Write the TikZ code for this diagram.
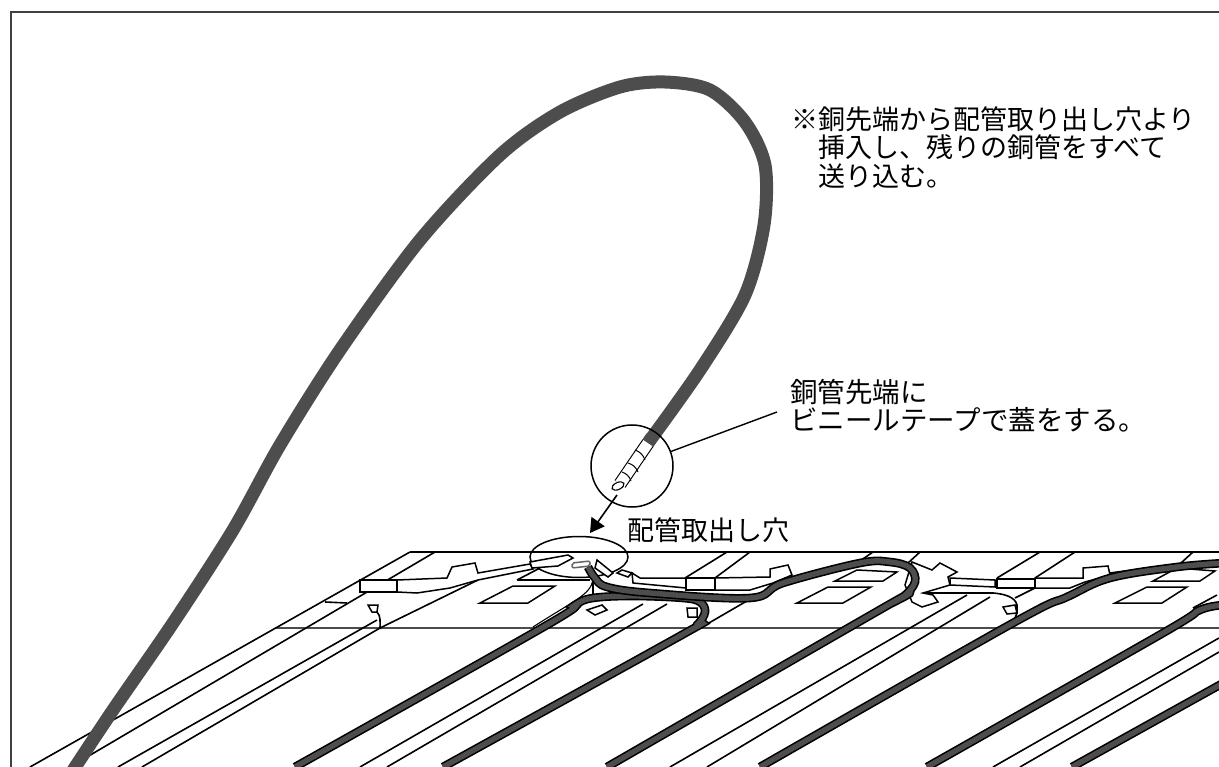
\documentclass[tikz,border=0pt]{standalone}
\usepackage{fontspec}
\usetikzlibrary{arrows.meta,shapes.geometric}
\newfontfamily\jpfont{Noto Sans CJK JP}
\definecolor{pipegray}{HTML}{4D4D4D}
\tikzset{
rail/.style = {draw=black, line width=1.6pt},
fitting/.style = {draw=black, fill=white, line width=1.5pt},
pipe/.style = {draw=black, line width=1.6pt, double=pipegray, double distance=5.4pt},
note/.style = {font=\jpfont\fontsize{#1}{28.5}\selectfont, anchor=north west, inner sep=0pt, align=left},
note/.default = 27
}
\begin{document}
\begin{tikzpicture}[x=1pt,y=-1pt]
      \clip (0,0) rectangle (1219,767);
      \fill [white] (0,0) rectangle (1219,767);
      \draw [draw=black!75, line width=2pt] (11,775) -- (11,12) -- (1225,12);
      % roof edges
      \draw [rail] (410,552) -- (1219,552);
      \draw [rail, draw=black!70, line width=2pt] (276,628) -- (1219,628);
      % rails
      \draw [rail] (410,552) -- (30,767);
      \draw [rail] (435,552) -- (70,767);
      \draw [rail] (377,620) -- (118,767);
      \draw [rail] (478,580) -- (380,628) -- (142,767);
      \draw [rail] (727,552) -- (685,578);
      \draw [rail] (750,552) -- (715,578);
      \draw [rail] (643,604) -- (360,767);
      \draw [rail] (667,604) -- (387,767);
      \draw [rail] (702,627) -- (752,598);
      \draw [rail] (873,552) -- (857,563);
      \draw [rail] (920,552) -- (908,563);
      \draw [rail] (1040,552) -- (997,578);
      \draw [rail] (1075,552) -- (1035,578);
      \draw [rail] (1035,588) -- (1015,598);
      \draw [rail] (967,595) -- (670,767);
      \draw [rail] (990,597) -- (707,767);
      \draw [rail] (1193,552) -- (1181,563);
      \draw [rail] (1219,638) -- (993,767);
      \draw [rail] (1219,652) -- (1020,767);
      \draw [rail] (1217,595) -- (1193,608);
      \draw [rail] (325,602) -- (347,603);
      % plates
      \draw [fitting] (480,603) -- (513,586) -- (555,586) -- (528,603) -- cycle;
      \draw [fitting] (797,603) -- (828,587) -- (871,587) -- (843,603) -- cycle;
      \draw [fitting] (1115,603) -- (1147,587) -- (1187,587) -- (1162,603) -- cycle;
      \draw [fitting] (835,581) -- (857,570) -- (897,572) -- (883,581) -- cycle;
      \draw [fitting] (1153,581) -- (1177,568) -- (1215,571) -- (1200,581) -- cycle;
      \node (holemark) [ellipse, draw, line width=1.5pt, minimum width=98pt, minimum height=41pt, inner sep=0pt] at (579,557) {};
      \draw [rail] (517,580) -- (540,568);
      \draw [rail] (517,580) -- (590,580);
      % strips and boxes
      \draw [fitting] (397,580) -- (447,578) -- (452,567) -- (475,563) -- (478,573) -- (530,564) -- (533,569) -- (478,580) -- (450,588) -- (417,593) -- (397,592) -- cycle;
      \draw [fitting] (360,580) rectangle (397,592);
      \draw [fitting] (632,573) -- (640,578) -- (686,578) -- (686,588) -- (633,583) -- cycle;
      \draw [fitting] (686,578) rectangle (715,590);
      \draw [fitting] (715,578) -- (770,577) -- (770,569) -- (788,565) -- (792,575) -- (773,583) -- (750,590) -- (715,590) -- cycle;
      \draw [fitting] (950,578) -- (995,580) -- (995,587) -- (950,585) -- cycle;
      \draw [fitting] (997,579) rectangle (1035,588);
      \draw [fitting] (1035,578) -- (1083,578) -- (1083,568) -- (1108,566) -- (1110,575) -- (1085,582) -- (1070,588) -- (1035,588) -- cycle;
      \draw [rail] (1110,573) -- (1170,565);
      % small fittings
      \draw [fitting] (368,605) -- (378,605) -- (377,612) -- (372,612) -- cycle;
      \draw [rail] (377,612) .. controls (381,616) and (380,622) .. (380,629);
      \draw [fitting] (530,562) -- (568,555) -- (573,558) -- (558,566) -- (532,568) -- cycle;
      \draw [fitting] (597,560) -- (613,573) -- (608,577) -- (595,568) -- cycle;
      \draw [fitting] (622,570) -- (632,573) -- (628,577) -- (617,573) -- cycle;
      \draw [fitting, draw=black!60, rounded corners=2pt] (572,563) -- (590,561) -- (590,566) -- (572,568) -- cycle;
      \draw [rail, line width=1.1pt] (593,580) -- (593,595);
      \draw [rail, line width=1.1pt] (593,580) .. controls (590,595) and (575,600) .. (533,627);
      \draw [fitting] (587,610) -- (602,605) -- (607,610) -- (595,615) -- cycle;
      \draw [fitting] (687,608) -- (697,608) -- (697,617) -- (688,617) -- cycle;
      \draw [fitting] (912,562) -- (932,570) -- (940,563) -- (957,572) -- (948,577) -- (950,585) -- (923,593) -- (933,595) -- (938,602) -- (922,607) -- (912,602) -- (905,585) -- cycle;
      \draw [rail] (923,593) -- (993,593) .. controls (1005,594) and (1015,597) .. (1017,605) -- (1017,613) -- (1015,618);
      \draw [fitting] (1003,607) -- (1015,605) -- (1017,613) -- (1007,614) -- cycle;
      % thin pipes on the roof
      \draw [pipe] plot [smooth, tension=0.6] coordinates {(295,767) (547,625) (575,605) (593,598) (633,596) (683,598) (700,602) (705,612) (697,625) (680,636) (443,767)};
      \draw [pipe] plot [smooth, tension=0.6] coordinates {(588,567) (595,578) (607,587) (650,593) (750,598) (783,583) (860,563) (890,562) (910,568) (915,582) (903,597) (883,608) (607,767)};
      \draw [pipe] plot [smooth, tension=0.6] coordinates {(760,767) (1013,623) (1067,597) (1110,578) (1177,567) (1225,563)};
      \draw [pipe] plot [smooth, tension=0.6] coordinates {(927,767) (1163,633) (1200,610) (1225,605)};
      \draw [pipe] (1072,767) -- (1225,682);
      % long pipe
      \draw [draw=pipegray, line width=13pt, line join=round] plot [smooth, tension=0.5] coordinates {(68,778) (113,710) (173,623) (233,530) (280,445) (340,350) (420,240) (500,155) (560,112) (620,87) (665,82) (710,90) (745,122) (765,165) (764,225) (745,295) (700,370) (648,443)};
      % taped end
      \draw [draw=black, line width=1.1pt, double=white, double distance=11pt] (648,443) -- (620,484);
      \draw [draw=pipegray, line width=13pt] (652,437) -- (648,443);
      \draw [fitting, line width=1.1pt] (618,486) ellipse [x radius=6.5pt, y radius=3.5pt, rotate=25];
      \draw [line width=1pt] (635,450) to[bend left=25] (645,460);
      \draw [line width=1pt] (628,463) to[bend left=25] (638,472);
      \draw [line width=1pt] (622,472) to[bend left=25] (631,481);
      \node (tapemark) [circle, draw, line width=1.5pt, minimum size=82pt, inner sep=0pt] at (632,466) {};
      \coordinate (leadend) at (777,412);
      \draw [line width=1.4pt] (tapemark) -- (leadend);
      \coordinate (arrowstart) at (617,495);
      \coordinate (arrowend) at (590,533);
      \draw [line width=1.6pt, -{Triangle[length=14pt,width=16pt]}] (arrowstart) -- (arrowend);
      % labels
      \node (noteinsert) [note] at (791,106) {※銅先端から配管取り出し穴より\\　挿入し、残りの銅管をすべて\\　送り込む。};
      \node (notetape) [note=27.5] at (790,379) {銅管先端に\\ビニールテープで蓋をする。};
      \node (noteholes) [note] at (627,517) {配管取出し穴};
\end{tikzpicture}
\end{document}
